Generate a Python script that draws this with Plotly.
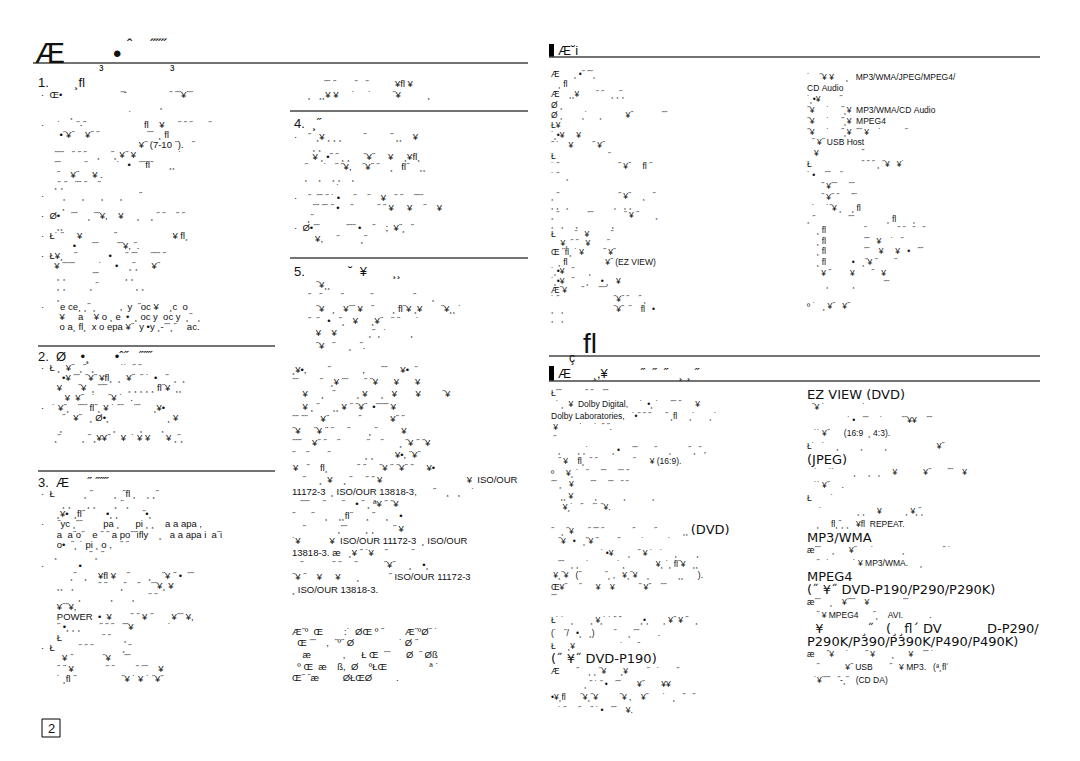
import plotly.graph_objects as go

W, H = 1080, 761
FONT = "Liberation Sans, Arial, Helvetica, sans-serif"
BIG_FONT = "DejaVu Sans, Liberation Sans, Arial, sans-serif"
INK = "#111111"
RULE = "#444444"
NBSP = "\u00a0"

# ---------------- left page text ----------------
TITLE_MAIN = "Æ"
TITLE_DOT = "•"
TITLE_MARKS = ["ˆ", "˝˝˝"]
TITLE_SUBS = ["з", "з"]

SEC1_TITLE = "1.       ¸ﬂ"
SEC1_LINES = [
    "·  Œ•                      ˝ˆ                ˝ ˝˝¥˝˝",
    "                                             ¸",
    "           ¸                     ˙",
    "·     ˙      ˝·˝                      ﬂ    ¥     ˝ ˝ ˝      ˝",
    "       •˝¥˝    ¥˝ ˝                  ˝˝  ¸ ﬂ",
    "                                     ¥˝ (7-10 ˝).   ˝",
    "     ˝˝˝   ˝ ˝ ˝    ¸    ˝¸ ¥˝ ¥                ˙",
    "     ˝˝         ˝           ˙   •   ˝˝ﬂ˝      ¸¸",
    "      ˝    ¥˝     ¥ .",
    "     ¸˝¸˝   ˝˝ ˝    ˝",
    "·       ¸      ¸      ¸      ¸      ˝",
    "        ¸",
    "·  Ø•    ˝˝    ¸ ˝˝¥,    ¥     ¸    ¸ ˝ ˝    ˝ ˝",
    "      ¸¸",
    "·  Ł˙ ˝     ¥            ˝                     ¥ ﬂ¸",
    "            •      ˝˝       ˝˝¥, ˝.",
    "·  Ł¥¸    ˝            •     ˝ ˝˝     ˝˝˝ ˝",
    "     ¥ ˝˝˝˝         ˙     •    ¸˝¸     ¥˝",
    "      ¸ ¸          ˝˝          ¸ ¸",
    "      ¸ ¸         ¸ ˝              ¸ ¸",
    "      ¸",
    "·      e ce¸ ¸˝ ¸         ,  y  ˝oc ¥    ¸c  o",
    "       ¥     a    ¥ o ¸ e  •  ¸ oc y  oc y  ¸˝  ¸",
    "       o a¸ ﬂ¸  x o epa ¥˝  y •y ¸-˝˝¸˝    ac.",
]

SEC2_TITLE = "2.  Ø    •¸       •ˆ˝   ˝˝˝"
SEC2_LINES = [
    "·  Ł ¸  ¥˝  ¸˝  ¸          ˙˙  ˝ ˝",
    "        •¥ ˝˝  ˝¥˝ ¥ﬂ¸  ¸  ¥˝  ˝ ˙  •   ˝  ¸  ¸",
    "      ¥      ˝¥  ¸ ˝˝˝        ¸ ¸ ¸ ¸ ¸ ﬂ˝¥  ¸¸",
    "         ¥  ¥˝   ˙     ˝¥ ˙   .",
    "·   ˙ ¥˝¸   ˝˝˝ ﬂ˝¸ ¥ ˙ ˝˝    ˝˝     ¸¥•",
    "        ˝   ¥˝   ¸ Ø•¸                      ¸ ¥",
    "       ¸                   ¸         ¸       ¸",
    "     ¸˝        ¸ ˝ ¸¥¥˝    ¥  ˙ ¥ ¥      ¥ ¸˝¸",
]

SEC3_TITLE = "3.  Æ     ˝ ˝˝˝"
SEC3_LINES = [
    "·  Ł           ¸ ˝        ¸  ˝ﬂ ¸    ¸ ¸˝",
    "        ¸ ¸      ¸ ¸       ¸ ˝ ¸",
    "      ¸¥•  ¸ﬂ˝        •¸ ¸         ˝•¸",
    "·     ˝yc ¸˝˝        pa ¸      pi ¸ ¸    a a apa ,",
    "      a  a˝o˝   e ˝ ˝ a po˝˝iﬂy    ¸   a a apa i  a˝i",
    "      o•  ˝¸ ˙ pi ¸ o ,   ˝ ˝",
    "     ¸            ˝ ¸ ˝",
    "·             •",
    "           ¸˝   ¸    ¥ﬂ ¥    ˝       ¸    ˝¥ ˝ •  ˝˝",
    "      ¸¸   ¸         ˝ ˝     ¸˝    ˝    ˝˝¥¸ ¥",
    "              ¸           ¸       ¸     ˝ ˝",
    "      ¥˝˝¥,",
    "      POWER  •  ¥       ˝ ˝ ¥ ˝       ¥˝˝ ¥,",
    "      ˝ •¸ ¸ ¸       ˝ ˝ ˝   ˝˝¥             ˙",
    "      Ł               ˝ ˝     ¸",
    "·  Ł         ˝ ˝ ˝           ¸ ˝",
    "        ¥ ˝           ˝¥     ˝˝",
    "      ˝ ˝ ¥            ˝ ˝        ˝ ˝˝    ¥",
    "      ˙ ¸ﬂ ˝                 ˝¥ ˙ ¥ ˙ ˝¥˝",
]

COLB_TOP_LINES = [
    "            ˝˝ ˝       ˝   ˝          ¥ﬂ ¥",
    "      ¸   ¸¸¥ ¥     ˙     ˙        ˝¥          ¸",
]

SEC4_TITLE = "4.  ¸˝"
SEC4_LINES = [
    "·    ˝  ¸¥ ¸ ¸ ¸        ˝         ˝ ¸¸    ¥",
    "       ¸ ¸",
    "       ¥ ¸ •˝ ˝ ¸ ¸     ˝¥˝     ¥    ¸¥ﬂ¸",
    "    ˝      ˙   ˝ ˝¥,    ˝¥˝ ˝    ¸   ﬂ˝    ¸¸",
    "    ¸    ¸    ¸ ¸    ¸",
    "                ˙",
    "·    ˝  ˝˝ ˝ ˙ •     ˝    ˝    ¥   ˝ ˝    ˝˝˝",
    "       ˝˝ ˝˝ ˝ •    ˝         ˝ ˝ ¥     ¥    ˝    ¥",
    "     ¸˝",
    "·  Ø•˝˝          ˝˝˝ •    ˝    ;  ¥˝¸  ˝",
    "        ¥,     ˝        ¸˝",
]

SEC5_TITLE = "5.            ˘  ¥       ¸¸"
SEC5_LINES = [
    "         ˝¥¸¸",
    "      ˝   ˝       ˝          ˝               ˝      ¸",
    "         ˝¥   ¸   ¥˝˝ ¥   ˝       ¸ ﬂ˝¥ ¸¥       ˝¥¸¸ ˙",
    "      ˝  ˝   •   ˝¸   ¥     ¸¥˝   ˝ ˝      ˙",
    "         ¥    ¥            ¸˝ ¸ ˙         ¸",
    "         ˝¥   ˝     ¸   ˝.",
    "",
    "¸¥•,        ˝            ,      ˝˝     ¥•  ˝",
    "˝˝        ˝   ¸¥ ˝˝      ˝ ˝¥      ¥      ¥",
    "    ¥     ¸   ˝        ¸ ¥     ¸   ¥       ¥        ˝¥",
    "    ¥ ¸ ˝     ¸¸ ¥ ˝ ˝¥˝  •˝˝˝˝ ¥",
    "˝˝ ˝˝     ¥˝           ˝           ¥˝ ˝",
    "˝¥     ˝¥ ˝ ˝     ˝       ¸ ˝         ¥",
    "˝˝˝    ¥˝ ˝    ˝          ˝    ˝      ¸ ˝¥ ˝ ˝¥",
    "˝    ˝       ˝             ¸ ¸        ¥•, ˝¥˝",
    "¥   ˝    ﬂ¸           ˝ ˝     ˝¥ ˝ ˝¥˝ ˝     ¥•",
    "    ˝     ¸  ¥    ¸ ˝     ˝ ˝ ¥                                ¥  ISO/OUR",
    "11172-3  ¸ ISO/OUR 13818-3,      ˝    ¸   ¸    ˙",
    "   ˝˝˝     ˝      ˝    • ˝ ¸ ª¥ ˝ ˝¥",
    "˝      ˝    ¸    ¸¸ﬂ˝     ¸ ˝    ¸    •",
    "    ˝            ¸˝˝       ¸ ¸       ˝ ¥",
    "˙¥           ¥  ISO/OUR 11172-3  ¸ ISO/OUR",
    "13818-3. æ   ¸¥ ˝ ˙¥    ˝         ˝",
    "   ˝           ˝ ˝     ˝          ˝¥˝     ¸    •¸",
    "˝¥ ˝    ¥     ¥      ¸           ˝ ISO/OUR 11172-3",
    "¸ ISO/OUR 13818-3.",
]

NOTE_LINES = [
    "Æ˝º  Œ        :˙  ØŒ º ˝        Æ˝ºØ˝ ˙",
    "  Œ ˝˝    ,  ˝º˝ Ø                 ˙ Ø ˝",
    "    æ            ,      Ł Œ  ˝˝      Ø  ˝ Øß",
    "  º Œ  æ    ß,  Ø    ºŁŒ                ª ˙",
    "Œ˝ ˝æ         ØŁŒØ         .",
]

PAGE_NO = "2"

# ---------------- right page text ----------------
FEAT_TITLE = "Æ˘i"
FEAT_LEFT_A = [
    "Æ      ¸ •˝ ˝˝¸",
    "   ¸ ﬂ",
    "Æ    ¸¸¥       ˝ ˝   ¸ ¸˝¸",
    "Ø ¸",
    "Ø ¸        ¸˙     ¸          ¥˝            ˝˝",
    "Ł¥",
    "˙¸•¥     ¥",
    "˝ ˙    ¥        ˝ ¥˝",
    "Ł                      ˝",
    "˙ ˝                         ˝ ¥˝     ﬂ ˝",
    "˙ ˝   ¸",
]
FEAT_LEFT_B = [
    "¸ ˝                         ˝ ¥˝     ¸   ˝",
    "¸ ¸   ¸                   ¸   ¸ ¸",
    "¸ ˝            ˝˝             ˝ ¥ ˝       ¸",
    "¸   ¸     ¸              ¸",
    "Ł        ˝   ¥         ˝",
    "    ¥¸ ˝ ˝   ¥       ˝",
    "Œ ˝ﬂ¸ ˙ ¥        ˝ ¥˝",
    "   ¸ ﬂ                ¥˝ (EZ VIEW)",
    "˙¸•¥   ˝      ¸",
    "˙¸•¥   ˝     ¸     • ¸   ¥",
    "Æ˝¥      ˝      ˝˝˝",
    "˙ ˝                       ˝¥˝ ˝    ˝ ¸",
    "¸   ¸                     ˝¥˝  ˝    ﬂ   •",
    "¸   ¸",
]
FEAT_RIGHT = [
    "˙    ˝¥ ¥     ¸   MP3/WMA/JPEG/MPEG4/",
    "CD Audio",
    "˙¸•¥        ˝",
    "˝¥     ˙     ˝¸¥  MP3/WMA/CD Audio",
    "˝¥     ˙     ˝¸¥  MPEG4",
    "˝¥     ˙     ˝¸¥  ˝˝ ¥    ˙          ˝",
    "  ˝ ¥˝ USB Host",
    "   ¥                  ˝",
    "Ł                     ˝ ˝ ˝ ¸ ˝¥   ¥˙",
    "˙ •    ˝˝    ˝",
    "      ˝ ¥˝˝     ˝˝",
    "      ˝ ¥˝ ˝     ˝˝",
    "  ˙     ˙˝¥ ¸    ¸ ﬂ",
    "¸ ˝              ˝˝              ¸ ﬂ       ¸",
    "    ¸ ﬂ                ˝             ˝ ˝   ˝   ˝",
    "    ¸ ﬂ                ˝˝   ¥    ˙   ˝",
    "    ¸ ﬂ                ˝˝    ¥     ¥   •   ˝˝",
    "    ¸ ﬂ           •   ¸˝¥ ˝       ˝",
    "      ¥ ˝        ¥       ˝   ¥",
    "        ¸          ¸            ˝˝",
    "",
    "º ˙   ¸ ¥˝   ¥˝",
]

PART_MARK = "ﬂ"
PART_SUB = "ç"
DESC_TITLE = "Æ      ¸,¥         ˝  ˝  ˝   ¸ ¸ ˝"

DESC_LEFT_A = [
    "Ł˝˝          ˝ ˝    ˝˝",
    "  ˙ ¸  ¥  Dolby Digital,     ˙  •¸ ˙     ˝˝ ˝      ¥",
    "Dolby Laboratories,   ˙•˝ ˝ ˝      ˝ ¸ﬂ     ¸˙      ¸ ˙",
    " ¥         ˙     ˙  ˝ ˝.",
    " ˝",
    "   ¸       ¸ ¸˙          ¸ •     ˝˝       ˝     ¸       ˝ ¸ ˝ ,",
    "   ˝ ¥    ﬂ¸  ˝ ˝               ˝      ¥ (16:9).",
    "º     ¥¸ ˙   ˝     ˝˝     ˝˝ ˝",
    "˝˝ ¸   ¥       ˝˝     ˝˝   ˝ ˝",
    "    ¸¸ ¥         ¸           ¸           ¸",
    "     ¥¸˙   ˝    ˝˙ ˝¥.",
    "",
    "˝   ¸ ˝¥      ˝ ˝˝ ˝            ˝        ˝           ¸¸ (DVD)",
    "   ˝¥   •   ¸˝¥ ˝        ˝         ˙          ˙",
    "                     ˙ •¥      ¸   ˝ ¥ ˙   ˙     ¸        ¸",
    "   ˝˝   ¸ ¸   ˙            ˙ ¸             ¥¸ ˙¸ ﬂ˝¥   ¸¸",
    " ¥¸˝¥   (˝          ˝¸ ,   ¥¸˝¥    ¸            ¸¸      ).",
    "Œ¥˝     ˝      ¥    ¥          ˝ ¥˝    ˝˝",
    "˝˝",
]
DESC_LEFT_B = [
    "Ł˙ ˙   ¸       ¸ ¥¸˙ ˙ ˝ ˝        ¸•¸      ¸ ¥˝ ¥ ˝   ¸",
    "(˙   ˝/   •¸   ¸)        ˝     ¸ ˝˝        .",
    "Ł     ¸¥                   ˙      ˝",
    "(˝ ¥˝ DVD-P190)",
    "Æ       ˝    ¸ ¸ ˝¥      ¸¥        ˝   ˙       ˝",
    "              ¸ ˝ ˙ ˝ •   ˝˝       ¥˝       ¥¥",
    "•¥¸ﬂ      ˝¥¸˝¥         ˝¥ ,    ¥˝      ˙   ¸   ˝   ˝",
    "   ˙ ˝     ˝    ˝ ˙ •   ˝˝    ¥.",
]
DESC_RIGHT = [
    "EZ VIEW (DVD)",
    "  ˝¥ ˙                ˙",
    "                 ˙ •   ˝˝     ˙        ˝˝¥¥    ˝˝",
    "   ˙˙ ¥˝      (16:9  ¸ 4:3).",
    "Ł˙   ˙     ¸         ¸         ¸                     ¥˝",
    "(JPEG)",
    "   ˙     ˙˙        ¸     ¸   ¸     ¥           ¥˝       ˝˝    ¥",
    "   ˙˙ ¥˝     .",
    "Ł        ˙",
    "     ˙               ¸ ¸     ¥          ¸ ¥¸˝¸",
    "    ¸     ﬂ¸˝¸ ¸   ¥ﬂ  REPEAT.",
    "MP3/WMA",
    "æ˝˝     ¸      ¥˝      ˙            ¸                ˝ ˙",
    "    ˝   ˙          ˙ ¥ MP3/WMA.     ¸",
    "MPEG4",
    "(˝ ¥˝ DVD-P190/P290/P290K)",
    "æ˝˝    ¸    ¥˝˝˝    ¥              ˝˝",
    "    ˝ ¥ MPEG4      ˝¸    AVI.           .",
    "  ¥         ¸˝   (¸¸ﬂ´ DV",
    "P290K/P390/P390K/P490/P490K)",
    "æ     ˝¥     ˙       ˝ ¥       ¸      ¥    ˝˝ ˙",
    "    ˝           ¥˝ USB       ˝   ¥ MP3.   (ª¸ﬂ´",
    "   ˙¥˝˝˝   ˝-¸˝   (CD DA)",
]
DESC_RIGHT_TAIL = "D-P290/"

BIG_LINES = {
    "EZ VIEW (DVD)", "(JPEG)", "MP3/WMA", "MPEG4",
    "(˝ ¥˝ DVD-P190/P290/P290K)", "P290K/P390/P390K/P490/P490K)",
    "  ¥         ¸˝   (¸¸ﬂ´ DV", "(˝ ¥˝ DVD-P190)",
}
INLINE_BIG = ["(DVD)"]


def fmt(line):
    return line.replace(" ", NBSP)


def add_text(fig, text, x, y, size, anchor="left", family=FONT):
    fig.add_annotation(
        x=x, y=y, xref="x", yref="y", text=text, showarrow=False,
        xanchor=anchor, yanchor="middle", align="left", borderpad=0,
        font=dict(family=family, size=size, color=INK),
    )


def add_block(fig, lines, x, y0, dy, size, big_size=13):
    for i, line in enumerate(lines):
        if not line.strip():
            continue
        if line in BIG_LINES:
            add_text(fig, fmt(line), x, y0 + i * dy, big_size, family=BIG_FONT)
            continue
        text = fmt(line)
        for phrase in INLINE_BIG:
            text = text.replace(
                fmt(phrase),
                f"<span style='font-size:{big_size}px;font-family:DejaVu Sans'>{fmt(phrase)}</span>")
        add_text(fig, text, x, y0 + i * dy, size)


def add_rule(fig, x0, x1, y, width=1.5, color=RULE):
    fig.add_shape(type="line", xref="x", yref="y", x0=x0, x1=x1, y0=y, y1=y,
                  line=dict(color=color, width=width))


def add_bar(fig, x0, y0, x1, y1):
    fig.add_shape(type="rect", xref="x", yref="y", x0=x0, x1=x1, y0=y0, y1=y1,
                  fillcolor="#000000", line=dict(width=0))


fig = go.Figure()

# ---- left page ----
add_text(fig, TITLE_MAIN, 34, 52, 30)
add_text(fig, TITLE_DOT, 112, 53, 24)
add_text(fig, TITLE_MARKS[0], 126, 45, 16)
add_text(fig, TITLE_MARKS[1], 149, 45, 16)
add_text(fig, TITLE_SUBS[0], 98, 67, 10)
add_text(fig, TITLE_SUBS[1], 169, 67, 10)
add_rule(fig, 33, 528, 63)

add_text(fig, SEC1_TITLE, 37, 82, 13)
add_block(fig, SEC1_LINES, 40, 94, 10.1, 9.5)
add_rule(fig, 38, 275, 346)
add_text(fig, SEC2_TITLE, 37, 356, 13)
add_block(fig, SEC2_LINES, 40, 367, 10.1, 9.5)
add_rule(fig, 38, 275, 471)
add_text(fig, SEC3_TITLE, 37, 482, 13)
add_block(fig, SEC3_LINES, 40, 493, 10.3, 9.5)

add_block(fig, COLB_TOP_LINES, 291, 83, 11, 9.5)
add_rule(fig, 290, 528, 111)
add_text(fig, SEC4_TITLE, 293, 123, 13)
add_block(fig, SEC4_LINES, 293, 136, 10.2, 9.5)
add_rule(fig, 290, 528, 258)
add_text(fig, SEC5_TITLE, 293, 271, 13)
add_block(fig, SEC5_LINES, 291, 284, 12.2, 9.5)
add_block(fig, NOTE_LINES, 291, 631, 11.7, 9.5)

fig.add_shape(type="rect", xref="x", yref="y", x0=42, x1=60, y0=719, y1=737,
              line=dict(color="#000000", width=1))
add_text(fig, PAGE_NO, 51, 728.5, 13, anchor="center")

# ---- right page ----
add_bar(fig, 549, 44, 554, 57)
add_text(fig, FEAT_TITLE, 557, 50, 13)
add_rule(fig, 549, 1040, 57)
add_block(fig, FEAT_LEFT_A, 550, 74, 10.2, 8.5)
add_block(fig, FEAT_LEFT_B, 550, 196, 9.4, 8.5)
add_block(fig, FEAT_RIGHT, 806, 77, 10.9, 8.5)

add_text(fig, PART_MARK, 582, 343, 28)
add_text(fig, PART_SUB, 568, 358, 12)
add_rule(fig, 549, 1040, 356)
add_bar(fig, 549, 366, 554, 381)
add_text(fig, DESC_TITLE, 557, 373, 13)
add_rule(fig, 549, 1040, 381)

add_block(fig, DESC_LEFT_A, 550, 393, 11.4, 8.5)
add_block(fig, DESC_LEFT_B, 550, 620, 12.8, 8.5)
add_block(fig, DESC_RIGHT, 806, 394, 13.0, 8.5)
add_text(fig, DESC_RIGHT_TAIL, 1040, 394 + 18 * 13.0, 13, anchor="right", family=BIG_FONT)

fig.update_layout(
    width=W, height=H,
    margin=dict(l=0, r=0, t=0, b=0),
    paper_bgcolor="white", plot_bgcolor="white",
    showlegend=False,
    xaxis=dict(range=[0, W], visible=False, fixedrange=True),
    yaxis=dict(range=[H, 0], visible=False, fixedrange=True),
)

fig.write_html("out.html", config={"displayModeBar": False},
               post_script="document.body.style.margin='0';")
